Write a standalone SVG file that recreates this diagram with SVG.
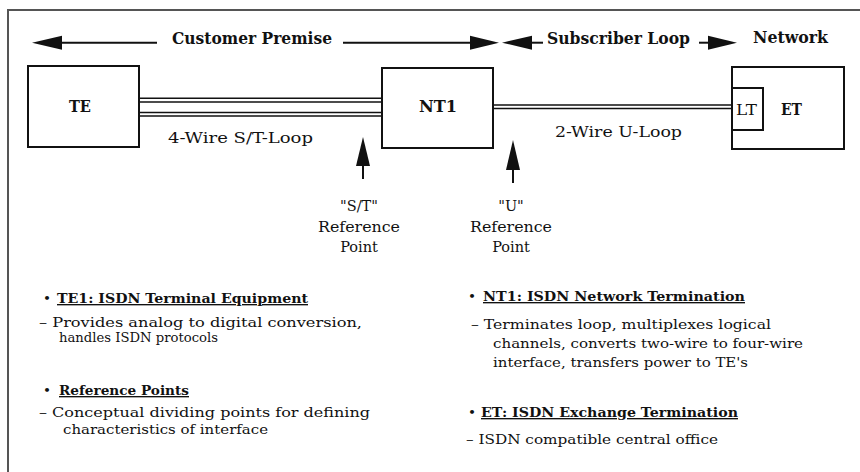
<svg xmlns="http://www.w3.org/2000/svg" width="860" height="472" viewBox="0 0 860 472">
<style>
.t{font-family:"DejaVu Serif","Liberation Serif",serif;fill:#111;}
.b{font-weight:bold;}
.hd{font-size:17px;font-weight:bold;}
.bx{fill:#fff;stroke:#111;stroke-width:2;}
.w{stroke:#111;stroke-width:1.6;fill:none;}
.ln{stroke:#111;stroke-width:2;fill:none;}
.ah{fill:#111;stroke:none;}
.body{font-size:14.5px;}
.nt{font-size:13.6px;}
.u{text-decoration:underline;}
</style>
<rect width="860" height="472" fill="#fff"/>
<path d="M8 472 V10 H860" fill="none" stroke="#555" stroke-width="2"/>

<g id="connectors">
  <line class="ln" x1="60" y1="42.7" x2="157" y2="42.7"/>
  <polygon class="ah" points="32,42.7 62,35.7 62,49.7"/>
  <line class="ln" x1="343" y1="42.7" x2="472" y2="42.7"/>
  <polygon class="ah" points="470,35.7 499,42.7 470,49.7"/>
  <line class="ln" x1="530" y1="42.7" x2="543" y2="42.7"/>
  <polygon class="ah" points="502,42.7 532,35.7 532,49.7"/>
  <line class="ln" x1="699" y1="42.7" x2="710" y2="42.7"/>
  <polygon class="ah" points="708,35.7 737,42.7 708,49.7"/>
  <line class="w" x1="139" y1="98.3" x2="382" y2="98.3"/>
  <line class="w" x1="139" y1="102" x2="382" y2="102"/>
  <line class="w" x1="139" y1="112.5" x2="382" y2="112.5"/>
  <line class="w" x1="139" y1="116" x2="382" y2="116"/>
  <line class="w" x1="493" y1="105" x2="732" y2="105"/>
  <line class="w" x1="493" y1="108.5" x2="732" y2="108.5"/>
  <line class="ln" x1="363" y1="164" x2="363" y2="179"/>
  <polygon class="ah" points="363,137 356,166 370,166"/>
  <line class="ln" x1="513" y1="168" x2="513" y2="183"/>
  <polygon class="ah" points="513,140 506,170 520,170"/>
</g>

<g id="header">
  <text class="t hd" x="172" y="44" textLength="160" lengthAdjust="spacingAndGlyphs">Customer Premise</text>
  <text class="t hd" x="547" y="44" textLength="143" lengthAdjust="spacingAndGlyphs">Subscriber Loop</text>
  <text class="t hd" x="753" y="43" textLength="75" lengthAdjust="spacingAndGlyphs">Network</text>
</g>

<g id="TE">
  <rect class="bx" x="28" y="66" width="111" height="81"/>
  <text class="t b" x="69" y="112" font-size="16" textLength="22" lengthAdjust="spacingAndGlyphs">TE</text>
</g>
<g id="NT1">
  <rect class="bx" x="382" y="68" width="111" height="80"/>
  <text class="t b" x="419" y="112" font-size="16" textLength="38" lengthAdjust="spacingAndGlyphs">NT1</text>
</g>
<g id="ET">
  <rect class="bx" x="732" y="67" width="112" height="82"/>
  <text class="t b" x="781" y="115" font-size="16" textLength="21" lengthAdjust="spacingAndGlyphs">ET</text>
</g>
<g id="LT">
  <rect class="bx" x="732" y="88" width="31" height="42"/>
  <text class="t" x="736" y="114.5" font-size="15.5" textLength="21" lengthAdjust="spacingAndGlyphs">LT</text>
</g>

<g id="labels">
  <text class="t body" x="168" y="143" textLength="145" lengthAdjust="spacingAndGlyphs">4-Wire S/T-Loop</text>
  <text class="t body" x="555" y="137" textLength="127" lengthAdjust="spacingAndGlyphs">2-Wire U-Loop</text>
  <g text-anchor="middle">
    <text class="t body" x="359" y="211">"S/T"</text>
    <text class="t body" x="359" y="231.5" textLength="82" lengthAdjust="spacingAndGlyphs">Reference</text>
    <text class="t body" x="359" y="252">Point</text>
    <text class="t body" x="511" y="211">"U"</text>
    <text class="t body" x="511" y="231.5" textLength="82" lengthAdjust="spacingAndGlyphs">Reference</text>
    <text class="t body" x="511" y="252">Point</text>
  </g>
</g>

<g id="notes-left">
  <text class="t nt" x="43" y="303">•</text>
  <text class="t nt b u" x="57" y="303" textLength="251" lengthAdjust="spacingAndGlyphs">TE1: ISDN Terminal Equipment</text>
  <text class="t nt" x="39" y="327" textLength="323" lengthAdjust="spacingAndGlyphs">– Provides analog to digital conversion,</text>
  <text class="t nt" x="59" y="342" textLength="159" lengthAdjust="spacingAndGlyphs">handles ISDN protocols</text>
  <text class="t nt" x="43" y="395">•</text>
  <text class="t nt b u" x="59" y="395" textLength="130" lengthAdjust="spacingAndGlyphs">Reference Points</text>
  <text class="t nt" x="39" y="417" textLength="331" lengthAdjust="spacingAndGlyphs">– Conceptual dividing points for defining</text>
  <text class="t nt" x="63" y="434" textLength="205" lengthAdjust="spacingAndGlyphs">characteristics of interface</text>
</g>

<g id="notes-right">
  <text class="t nt" x="468" y="301">•</text>
  <text class="t nt b u" x="483" y="301" textLength="262" lengthAdjust="spacingAndGlyphs">NT1: ISDN Network Termination</text>
  <text class="t nt" x="471" y="329" textLength="300" lengthAdjust="spacingAndGlyphs">– Terminates loop, multiplexes logical</text>
  <text class="t nt" x="493" y="348" textLength="310" lengthAdjust="spacingAndGlyphs">channels, converts two-wire to four-wire</text>
  <text class="t nt" x="493" y="367" textLength="255" lengthAdjust="spacingAndGlyphs">interface, transfers power to TE's</text>
  <text class="t nt" x="468" y="417">•</text>
  <text class="t nt b u" x="481" y="417" textLength="257" lengthAdjust="spacingAndGlyphs">ET: ISDN Exchange Termination</text>
  <text class="t nt" x="466" y="444" textLength="252" lengthAdjust="spacingAndGlyphs">– ISDN compatible central office</text>
</g>
</svg>
